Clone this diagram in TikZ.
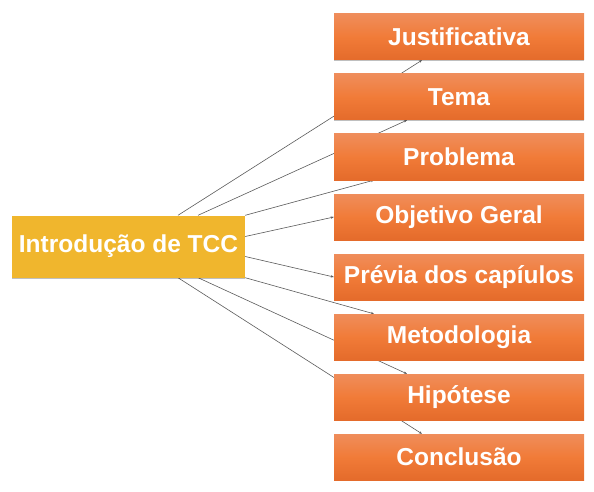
\documentclass[tikz,border=0pt]{standalone}
\usepackage{fontspec}
\setmainfont{Liberation Sans}
\usetikzlibrary{shadows,calc,arrows.meta}
\pgfdeclarelayer{background}
\pgfsetlayers{background,main}
\definecolor{otop}{HTML}{EF8D5B}
\definecolor{omid}{HTML}{F17B38}
\definecolor{obot}{HTML}{E46B2B}
\definecolor{gold}{HTML}{F0B62D}
\definecolor{linec}{HTML}{5A5A5A}
\tikzset{
  x=1pt,y=-1pt,
  boxbase/.style={inner sep=0pt, text=white,
    font=\fontsize{24.5}{28}\selectfont\bfseries,
    drop shadow={shadow xshift=0pt,shadow yshift=-1pt,opacity=0.25,fill=black}},
  topicbox/.style={boxbase, minimum width=250pt, minimum height=46pt,
    top color=otop, bottom color=obot, middle color=omid},
  centerbox/.style={boxbase, minimum width=233pt, minimum height=62pt, fill=gold},
  conn/.style={draw=linec, line width=0.6pt, -{Stealth[length=3pt,width=2.4pt]}}
}
\begin{document}
\begin{tikzpicture}
\useasboundingbox (0,0) rectangle (594,492);
\node[centerbox] (c) at (128.5,246.5) {Introdução de TCC};
\node[topicbox] (t1) at (459,37) {Justificativa};
\node[topicbox] (t2) at (459,97) {Tema};
\node[topicbox] (t3) at (459,157) {Problema};
\node[topicbox] (t4) at (459,217) {Objetivo Geral};
\node[topicbox] (t5) at (459,277) {Prévia dos capíulos};
\node[topicbox] (t6) at (459,337) {Metodologia};
\node[topicbox] (t7) at (459,397) {Hipótese};
\node[topicbox] (t8) at (459,457) {Conclusão};
\begin{pgfonlayer}{background}
\draw[conn] ($(c.north west)!0.712!(c.north east)$) -- ($(t1.south west)!0.352!(t1.south east)$);
\draw[conn] ($(c.north west)!0.798!(c.north east)$) -- ($(t2.south west)!0.292!(t2.south east)$);
\draw[conn] (c.north east) -- ($(t3.south west)!0.16!(t3.south east)$);
\draw[conn] ($(c.east)+(0,-10)$) -- (t4.west);
\draw[conn] ($(c.east)+(0,10)$) -- (t5.west);
\draw[conn] (c.south east) -- ($(t6.north west)!0.16!(t6.north east)$);
\draw[conn] ($(c.south west)!0.798!(c.south east)$) -- ($(t7.north west)!0.292!(t7.north east)$);
\draw[conn] ($(c.south west)!0.712!(c.south east)$) -- ($(t8.north west)!0.352!(t8.north east)$);
\end{pgfonlayer}
\end{tikzpicture}
\end{document}
